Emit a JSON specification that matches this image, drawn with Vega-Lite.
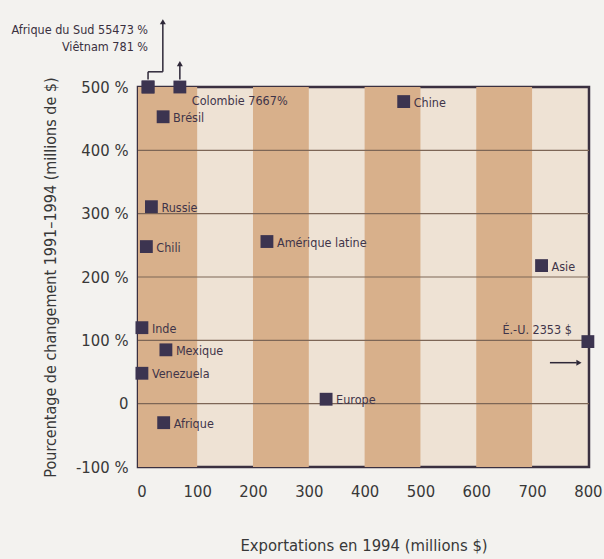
{
  "$schema": "https://vega.github.io/schema/vega-lite/v6.json",
  "width": 451,
  "height": 380,
  "autosize": {"type": "none"},
  "padding": {"left": 138, "top": 87, "right": 15, "bottom": 92},
  "background": "#f3f2ef",
  "config": {
    "view": {"fill": "#eee2d4", "stroke": "#3a3040", "strokeWidth": 2.5},
    "font": "DejaVu Sans Condensed",
    "text": {"font": "DejaVu Sans Condensed"}
  },
  "datasets": {
    "bandes": [
      {"debut": -6, "fin": 100},
      {"debut": 200, "fin": 300},
      {"debut": 400, "fin": 500},
      {"debut": 600, "fin": 700}
    ],
    "grille": [{"v": 0}, {"v": 100}, {"v": 200}, {"v": 300}, {"v": 400}],
    "pays": [
      {"pays": "Afrique du Sud", "exportations": 12, "variation": 500, "etiquette": "Afrique du Sud 55473 %"},
      {"pays": "Viêtnam", "exportations": 12, "variation": 500, "etiquette": "Viêtnam 781 %"},
      {"pays": "Colombie", "exportations": 69, "variation": 500, "etiquette": "Colombie 7667%"},
      {"pays": "Brésil", "exportations": 39, "variation": 453, "etiquette": "Brésil"},
      {"pays": "Russie", "exportations": 18, "variation": 311, "etiquette": "Russie"},
      {"pays": "Chili", "exportations": 9, "variation": 248, "etiquette": "Chili"},
      {"pays": "Amérique latine", "exportations": 225, "variation": 256, "etiquette": "Amérique latine"},
      {"pays": "Inde", "exportations": 1, "variation": 120, "etiquette": "Inde"},
      {"pays": "Mexique", "exportations": 44, "variation": 85, "etiquette": "Mexique"},
      {"pays": "Venezuela", "exportations": 1, "variation": 48, "etiquette": "Venezuela"},
      {"pays": "Afrique", "exportations": 40, "variation": -30, "etiquette": "Afrique"},
      {"pays": "Europe", "exportations": 331, "variation": 7, "etiquette": "Europe"},
      {"pays": "Chine", "exportations": 470, "variation": 477, "etiquette": "Chine"},
      {"pays": "Asie", "exportations": 717, "variation": 218, "etiquette": "Asie"},
      {"pays": "É.-U.", "exportations": 800, "variation": 98, "etiquette": "É.-U. 2353 $"}
    ],
    "fleches": [
      {"x": 12, "y": 512, "x2": 12, "y2": 524},
      {"x": 12, "y": 524, "x2": 38.5, "y2": 524},
      {"x": 38.5, "y": 524, "x2": 38.5, "y2": 600},
      {"x": 69, "y": 512, "x2": 69, "y2": 534},
      {"x": 732, "y": 64.7, "x2": 780, "y2": 64.7}
    ],
    "pointes": [
      {"x": 38.5, "y": 603, "forme": "triangle-up"},
      {"x": 69, "y": 537, "forme": "triangle-up"},
      {"x": 784, "y": 64.7, "forme": "triangle-right"}
    ]
  },
  "layer": [
    {
      "data": {"name": "bandes"},
      "mark": {"type": "rect", "color": "#d8b08b"},
      "encoding": {
        "x": {
          "field": "debut", "type": "quantitative",
          "scale": {"domain": [-6, 802], "nice": false, "zero": false},
          "axis": {
            "values": [0, 100, 200, 300, 400, 500, 600, 700, 800],
            "title": "Exportations en 1994 (millions $)",
            "ticks": false, "domain": false, "grid": false,
            "labelFont": "DejaVu Sans Condensed", "labelFontSize": 16.5, "labelColor": "#383838",
            "labelPadding": 16,
            "titleFont": "DejaVu Sans Condensed", "titleFontSize": 16.5, "titleFontWeight": "normal",
            "titleColor": "#383838", "titlePadding": 38
          }
        },
        "x2": {"field": "fin"}
      }
    },
    {
      "data": {"name": "grille"},
      "mark": {"type": "rule", "color": "#7d6656", "strokeWidth": 1.2},
      "encoding": {
        "y": {
          "field": "v", "type": "quantitative",
          "scale": {"domain": [-100, 500], "nice": false, "zero": false},
          "axis": {
            "values": [-100, 0, 100, 200, 300, 400, 500],
            "labelExpr": "datum.value == 0 ? '0' : datum.value + ' %'",
            "title": "Pourcentage de changement 1991–1994 (millions de $)",
            "ticks": false, "domain": false, "grid": false,
            "labelFont": "DejaVu Sans Condensed", "labelFontSize": 16.5, "labelColor": "#383838",
            "labelPadding": 10,
            "titleFont": "DejaVu Sans Condensed", "titleFontSize": 16, "titleFontWeight": "normal",
            "titleColor": "#383838", "titlePadding": 17
          }
        }
      }
    },
    {
      "data": {"name": "fleches"},
      "mark": {"type": "rule", "color": "#2e2838", "strokeWidth": 1.5},
      "encoding": {
        "x": {"field": "x", "type": "quantitative", "scale": {"domain": [-6, 802], "nice": false, "zero": false}},
        "y": {"field": "y", "type": "quantitative", "scale": {"domain": [-100, 500], "nice": false, "zero": false}},
        "x2": {"field": "x2"},
        "y2": {"field": "y2"}
      }
    },
    {
      "data": {"name": "pointes"},
      "mark": {"type": "point", "filled": true, "color": "#2e2838", "size": 36, "opacity": 1},
      "encoding": {
        "x": {"field": "x", "type": "quantitative", "scale": {"domain": [-6, 802], "nice": false, "zero": false}},
        "y": {"field": "y", "type": "quantitative", "scale": {"domain": [-100, 500], "nice": false, "zero": false}},
        "shape": {"field": "forme", "type": "nominal", "scale": null}
      }
    },
    {
      "data": {"name": "pays"},
      "mark": {"type": "square", "color": "#3c3450", "size": 165, "opacity": 1},
      "encoding": {
        "x": {"field": "exportations", "type": "quantitative", "scale": {"domain": [-6, 802], "nice": false, "zero": false}},
        "y": {"field": "variation", "type": "quantitative", "scale": {"domain": [-100, 500], "nice": false, "zero": false}}
      }
    },
    {
      "data": {"name": "pays"},
      "transform": [{"filter": "indexof(['Afrique du Sud', 'Viêtnam', 'Colombie', 'É.-U.'], datum.pays) < 0"}],
      "mark": {"type": "text", "align": "left", "baseline": "middle", "dx": 10, "dy": 1, "fontSize": 12.5, "color": "#3f3449"},
      "encoding": {
        "x": {"field": "exportations", "type": "quantitative", "scale": {"domain": [-6, 802], "nice": false, "zero": false}},
        "y": {"field": "variation", "type": "quantitative", "scale": {"domain": [-100, 500], "nice": false, "zero": false}},
        "text": {"field": "etiquette"}
      }
    },
    {
      "data": {"name": "pays"},
      "transform": [{"filter": "datum.pays == 'Colombie'"}],
      "mark": {"type": "text", "align": "left", "baseline": "middle", "dx": 12, "dy": 14, "fontSize": 12.5, "color": "#3f3449"},
      "encoding": {
        "x": {"field": "exportations", "type": "quantitative", "scale": {"domain": [-6, 802], "nice": false, "zero": false}},
        "y": {"field": "variation", "type": "quantitative", "scale": {"domain": [-100, 500], "nice": false, "zero": false}},
        "text": {"field": "etiquette"}
      }
    },
    {
      "data": {"name": "pays"},
      "transform": [{"filter": "datum.pays == 'É.-U.'"}],
      "mark": {"type": "text", "align": "right", "baseline": "middle", "dx": -16, "dy": -12, "fontSize": 12.5, "color": "#3f3449"},
      "encoding": {
        "x": {"field": "exportations", "type": "quantitative", "scale": {"domain": [-6, 802], "nice": false, "zero": false}},
        "y": {"field": "variation", "type": "quantitative", "scale": {"domain": [-100, 500], "nice": false, "zero": false}},
        "text": {"field": "etiquette"}
      }
    },
    {
      "data": {"name": "pays"},
      "transform": [{"filter": "datum.pays == 'Afrique du Sud'"}],
      "mark": {"type": "text", "align": "right", "baseline": "middle", "dx": 0, "dy": -57, "fontSize": 12.5, "color": "#3a3040"},
      "encoding": {
        "x": {"field": "exportations", "type": "quantitative", "scale": {"domain": [-6, 802], "nice": false, "zero": false}},
        "y": {"field": "variation", "type": "quantitative", "scale": {"domain": [-100, 500], "nice": false, "zero": false}},
        "text": {"field": "etiquette"}
      }
    },
    {
      "data": {"name": "pays"},
      "transform": [{"filter": "datum.pays == 'Viêtnam'"}],
      "mark": {"type": "text", "align": "right", "baseline": "middle", "dx": 0, "dy": -40, "fontSize": 12.5, "color": "#3a3040"},
      "encoding": {
        "x": {"field": "exportations", "type": "quantitative", "scale": {"domain": [-6, 802], "nice": false, "zero": false}},
        "y": {"field": "variation", "type": "quantitative", "scale": {"domain": [-100, 500], "nice": false, "zero": false}},
        "text": {"field": "etiquette"}
      }
    }
  ]
}
